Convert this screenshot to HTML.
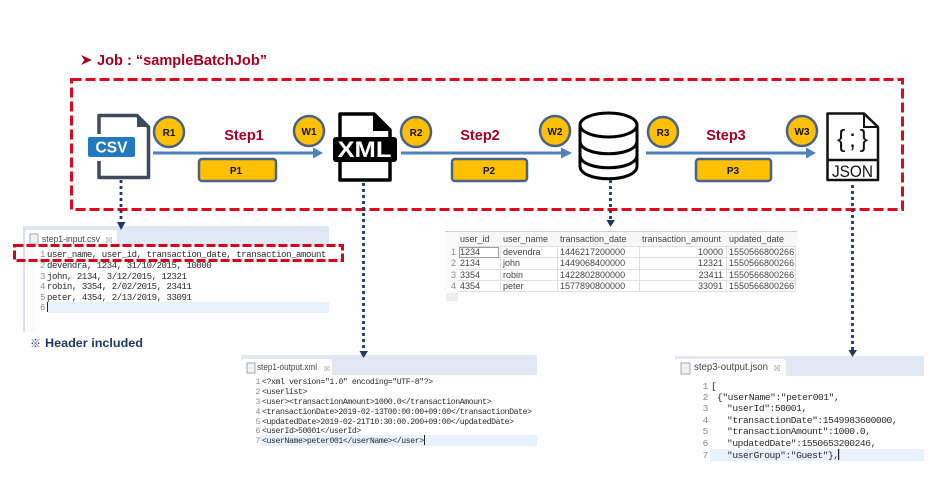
<!DOCTYPE html>
<html>
<head>
<meta charset="utf-8">
<style>
html,body{margin:0;padding:0;background:#fff;width:942px;height:483px;overflow:hidden}
svg{display:block}
.step{font:bold 14.5px "Liberation Sans",sans-serif;fill:#a50021;text-anchor:middle}
.lbl{font:bold 10px "Liberation Sans",sans-serif;fill:#111;text-anchor:middle}
.mono{font-family:"Liberation Mono",monospace;fill:#2a2a2a}
.num{font-family:"Liberation Mono",monospace;fill:#8a8a8a;text-anchor:end}
.tab{font:9.5px "Liberation Sans",sans-serif;fill:#444}
.tb{font:9px "Liberation Sans",sans-serif;fill:#444}
</style>
</head>
<body>
<svg width="942" height="483" viewBox="0 0 942 483" xmlns="http://www.w3.org/2000/svg">
<rect width="942" height="483" fill="#fff"/>

<!-- Title -->
<path d="M81 55 L92 60 L81 65 L84.500 60 Z" fill="#a50021"/>
<text x="97" y="65" font-family="Liberation Sans,sans-serif" font-weight="bold" font-size="14.5" fill="#a50021" textLength="170" lengthAdjust="spacingAndGlyphs">Job : “sampleBatchJob”</text>

<!-- Job box -->
<rect x="71.500" y="79.500" width="831" height="130" fill="none" stroke="#e0081c" stroke-width="3" stroke-dasharray="10 4"/>

<!-- CSV icon -->
<path d="M99 115.500 H137 L148.500 127 V177.500 H99 Z" fill="#fff" stroke="#3e4a5a" stroke-width="3.500" stroke-linejoin="round"/>
<path d="M137 115 L149 127 H137 Z" fill="#3e4a5a"/>
<rect x="96" y="134" width="6" height="27" fill="#fff"/>
<rect x="88" y="137" width="47" height="20" rx="2" fill="#2279bd"/>
<text x="111.500" y="152.500" font-family="Liberation Sans,sans-serif" font-weight="bold" font-size="16" fill="#fff" text-anchor="middle" textLength="32" lengthAdjust="spacingAndGlyphs">CSV</text>

<!-- XML icon -->
<path d="M340 114 H374 L390 130 V180 H340 Z" fill="#fff" stroke="#000" stroke-width="3.500" stroke-linejoin="round"/>
<path d="M373 112 L392 131 H373 Z" fill="#000"/>
<rect x="333" y="137" width="64" height="25" rx="3" fill="#000"/>
<text x="364.500" y="157" font-family="Liberation Sans,sans-serif" font-weight="bold" font-size="22" fill="#fff" text-anchor="middle" textLength="54" lengthAdjust="spacingAndGlyphs">XML</text>

<!-- Database icon -->
<g fill="#fff" stroke="#000" stroke-width="3">
<path d="M580 125 V166 C580 183 637 183 637 166 V125"/>
<ellipse cx="608.500" cy="125" rx="28.500" ry="12"/>
<path d="M580 141 C580 158 637 158 637 141" fill="none"/>
<path d="M580 155 C580 172 637 172 637 155" fill="none"/>
</g>

<!-- JSON icon -->
<path d="M827.500 113.500 H864 L878 127 V180 H827.500 Z" fill="#fff" stroke="#111" stroke-width="2.500" stroke-linejoin="round"/>
<path d="M864 113.500 V127 H878" fill="none" stroke="#111" stroke-width="2"/>
<line x1="827" y1="160" x2="878" y2="160" stroke="#111" stroke-width="2.500"/>
<text x="837" y="147" font-family="Liberation Sans,sans-serif" font-size="25" fill="#111" textLength="31" lengthAdjust="spacing">{;}</text>
<text x="852.500" y="177" font-family="Liberation Sans,sans-serif" font-size="16.500" fill="#111" text-anchor="middle" textLength="41" lengthAdjust="spacingAndGlyphs">JSON</text>

<!-- Arrows -->
<g fill="#4f81bd">
<path d="M153 151.500 H313 V147.500 L323 153 L313 158.500 V154.500 H153 Z"/>
<path d="M401 151.500 H561 V147.500 L572 153 L561 158.500 V154.500 H401 Z"/>
<path d="M646 151.500 H806 V147.500 L816 153 L806 158.500 V154.500 H646 Z"/>
</g>

<!-- Circles -->
<g fill="#ffc000" stroke="#4a6285" stroke-width="2.500">
<circle cx="169" cy="132" r="15"/>
<circle cx="309" cy="131" r="15"/>
<circle cx="416" cy="132" r="15"/>
<circle cx="555" cy="131" r="15"/>
<circle cx="663" cy="132" r="15"/>
<circle cx="802" cy="131" r="15"/>
</g>
<text class="lbl" x="169" y="136">R1</text>
<text class="lbl" x="309" y="135">W1</text>
<text class="lbl" x="416" y="136">R2</text>
<text class="lbl" x="555" y="135">W2</text>
<text class="lbl" x="663" y="136">R3</text>
<text class="lbl" x="802" y="135">W3</text>

<!-- Steps -->
<text class="step" x="244" y="140">Step1</text>
<text class="step" x="480" y="140">Step2</text>
<text class="step" x="726" y="140">Step3</text>

<!-- Process boxes -->
<g fill="#ffc000" stroke="#4a6285" stroke-width="2.500">
<rect x="199" y="159" width="77" height="22" rx="3"/>
<rect x="452" y="159" width="75" height="22" rx="3"/>
<rect x="696" y="159" width="75" height="22" rx="3"/>
</g>
<text class="lbl" x="236" y="174">P1</text>
<text class="lbl" x="489" y="174">P2</text>
<text class="lbl" x="733" y="174">P3</text>

<!-- CSV panel -->
<rect x="23" y="226" width="306" height="20" fill="#dfe8f3"/>
<rect x="23" y="226" width="2" height="106" fill="#dde1e6"/>
<rect x="25" y="246" width="10" height="86" fill="#fbfbfb"/>
<path d="M25 246 V233 Q25 230 28 230 H114 Q117 230 117 233 V246 Z" fill="#fff"/>
<rect x="30" y="234" width="8" height="10" fill="#eef1f4" stroke="#8d97a3" stroke-width="0.800"/>
<text class="tab" x="42" y="242" textLength="58" lengthAdjust="spacingAndGlyphs">step1-input.csv</text>
<text x="109" y="243" font-size="8" font-family="DejaVu Sans,sans-serif" fill="#999" text-anchor="middle">☒</text>
<rect x="48" y="302" width="281" height="11" fill="#e8f2fe"/>
<rect x="47" y="302" width="1" height="10" fill="#222"/>
<g font-size="9" letter-spacing="-0.420">
<text class="num" x="45" y="257">1</text><text class="mono" x="47" y="257">user_name, user_id, transaction_date, transaction_amount</text>
<text class="num" x="45" y="268">2</text><text class="mono" x="47" y="268">devendra, 1234, 31/10/2015, 10000</text>
<text class="num" x="45" y="279">3</text><text class="mono" x="47" y="279">john, 2134, 3/12/2015, 12321</text>
<text class="num" x="45" y="289">4</text><text class="mono" x="47" y="289">robin, 3354, 2/02/2015, 23411</text>
<text class="num" x="45" y="300">5</text><text class="mono" x="47" y="300">peter, 4354, 2/13/2019, 33091</text>
<text class="num" x="45" y="310">6</text>
</g>
<rect x="14.500" y="245.500" width="328" height="15" fill="none" stroke="#d9001b" stroke-width="3" stroke-dasharray="9 3"/>

<!-- Header note -->
<text x="30" y="347" font-family="Noto Sans CJK KR,sans-serif" font-weight="bold" font-size="11" fill="#1f3864">※</text>
<text x="45" y="347" font-family="Liberation Sans,sans-serif" font-weight="bold" font-size="12" fill="#1f3864" textLength="98" lengthAdjust="spacingAndGlyphs">Header included</text>

<!-- Table -->
<rect x="445" y="231" width="352" height="15" fill="#f7f7f7"/>
<rect x="445" y="231" width="352" height="1" fill="#cfcfcf"/>
<rect x="445" y="232" width="13" height="60" fill="#fafafa"/>
<rect x="446" y="293" width="12" height="8" fill="#eeeeee"/>
<g stroke="#e0e0e0" stroke-width="1">
<line x1="458" y1="246.500" x2="796" y2="246.500"/>
<line x1="458" y1="257.500" x2="796" y2="257.500"/>
<line x1="458" y1="269.500" x2="796" y2="269.500"/>
<line x1="458" y1="280.500" x2="796" y2="280.500"/>
<line x1="458" y1="291.500" x2="796" y2="291.500"/>
<line x1="500.500" y1="246" x2="500.500" y2="291"/>
<line x1="557.500" y1="246" x2="557.500" y2="291"/>
<line x1="639.500" y1="246" x2="639.500" y2="291"/>
<line x1="726.500" y1="246" x2="726.500" y2="291"/>
<line x1="795.500" y1="246" x2="795.500" y2="291"/>
</g>
<rect x="459.500" y="247.500" width="39" height="10" fill="#fff" stroke="#888" stroke-width="0.800"/>
<g>
<text class="tb" x="460" y="242">user_id</text><text class="tb" x="503" y="242">user_name</text><text class="tb" x="560" y="242">transaction_date</text><text class="tb" x="642" y="242">transaction_amount</text><text class="tb" x="729" y="242">updated_date</text>
<text class="tb" x="451" y="255" fill-opacity="0.6">1</text><text class="tb" x="460" y="255">1234</text><text class="tb" x="503" y="255">devendra</text><text class="tb" x="560" y="255">1446217200000</text><text class="tb" x="723" y="255" text-anchor="end">10000</text><text class="tb" x="729" y="255">1550566800266</text>
<text class="tb" x="451" y="266" fill-opacity="0.6">2</text><text class="tb" x="460" y="266">2134</text><text class="tb" x="503" y="266">john</text><text class="tb" x="560" y="266">1449068400000</text><text class="tb" x="723" y="266" text-anchor="end">12321</text><text class="tb" x="729" y="266">1550566800266</text>
<text class="tb" x="451" y="278" fill-opacity="0.6">3</text><text class="tb" x="460" y="278">3354</text><text class="tb" x="503" y="278">robin</text><text class="tb" x="560" y="278">1422802800000</text><text class="tb" x="723" y="278" text-anchor="end">23411</text><text class="tb" x="729" y="278">1550566800266</text>
<text class="tb" x="451" y="289" fill-opacity="0.6">4</text><text class="tb" x="460" y="289">4354</text><text class="tb" x="503" y="289">peter</text><text class="tb" x="560" y="289">1577890800000</text><text class="tb" x="723" y="289" text-anchor="end">33091</text><text class="tb" x="729" y="289">1550566800266</text>
</g>

<!-- XML panel -->
<rect x="241" y="355" width="296" height="20" fill="#dfe8f3"/>
<path d="M241 375 V362 Q241 359 244 359 H329 Q332 359 332 362 V375 Z" fill="#fff"/>
<rect x="247" y="363" width="8" height="10" fill="#eef1f4" stroke="#8d97a3" stroke-width="0.800"/>
<text class="tab" x="257" y="370" textLength="60" lengthAdjust="spacingAndGlyphs">step1-output.xml</text>
<text x="327" y="371" font-size="7" font-family="DejaVu Sans,sans-serif" fill="#999" text-anchor="middle">☒</text>
<rect x="260" y="435" width="277" height="11" fill="#e8f2fe"/>
<rect x="424" y="435" width="1" height="10" fill="#222"/>
<g font-size="8.200" letter-spacing="-0.420">
<text class="num" x="260" y="384">1</text><text class="mono" x="262" y="384">&lt;?xml version="1.0" encoding="UTF-8"?&gt;</text>
<text class="num" x="260" y="394">2</text><text class="mono" x="262" y="394">&lt;userlist&gt;</text>
<text class="num" x="260" y="404">3</text><text class="mono" x="262" y="404">&lt;user&gt;&lt;transactionAmount&gt;1000.0&lt;/transactionAmount&gt;</text>
<text class="num" x="260" y="414">4</text><text class="mono" x="262" y="414">&lt;transactionDate&gt;2019-02-13T00:00:00+09:00&lt;/transactionDate&gt;</text>
<text class="num" x="260" y="424">5</text><text class="mono" x="262" y="424">&lt;updatedDate&gt;2019-02-21T10:30:00.200+09:00&lt;/updatedDate&gt;</text>
<text class="num" x="260" y="433">6</text><text class="mono" x="262" y="433">&lt;userId&gt;50001&lt;/userId&gt;</text>
<text class="num" x="260" y="443">7</text><text class="mono" x="262" y="443">&lt;userName&gt;peter001&lt;/userName&gt;&lt;/user&gt;</text>
</g>

<!-- JSON panel -->
<rect x="675" y="356" width="249" height="20" fill="#dfe8f3"/>
<path d="M675 376 V362 Q675 359 678 359 H783 Q786 359 786 362 V376 Z" fill="#fff"/>
<rect x="681" y="363" width="9" height="11" fill="#eef1f4" stroke="#8d97a3" stroke-width="0.800"/>
<text class="tab" x="694" y="370" style="font-size:10px" textLength="74" lengthAdjust="spacingAndGlyphs">step3-output.json</text>
<text x="777" y="371" font-size="8" font-family="DejaVu Sans,sans-serif" fill="#999" text-anchor="middle">☒</text>
<rect x="710" y="449" width="214" height="12" fill="#e8f2fe"/>
<rect x="838" y="449" width="1.200" height="11" fill="#222"/>
<g font-size="9.600" letter-spacing="-0.440">
<text class="num" x="708" y="389">1</text><text class="mono" x="711" y="389">[</text>
<text class="num" x="708" y="400">2</text><text class="mono" x="717" y="400">{"userName":"peter001",</text>
<text class="num" x="708" y="411">3</text><text class="mono" x="727" y="411">"userId":50001,</text>
<text class="num" x="708" y="423">4</text><text class="mono" x="727" y="423">"transactionDate":1549983600000,</text>
<text class="num" x="708" y="434">5</text><text class="mono" x="727" y="434">"transactionAmount":1000.0,</text>
<text class="num" x="708" y="446">6</text><text class="mono" x="727" y="446">"updatedDate":1550653200246,</text>
<text class="num" x="708" y="458">7</text><text class="mono" x="727" y="458">"userGroup":"Guest"},</text>
</g>

<!-- Dotted connectors -->
<g stroke="#1f3864" stroke-width="2.800" stroke-dasharray="3 3" fill="none">
<line x1="121" y1="180" x2="121" y2="222"/>
<line x1="363.500" y1="183" x2="363.500" y2="351"/>
<line x1="610.500" y1="180" x2="610.500" y2="220"/>
<line x1="852.500" y1="185" x2="852.500" y2="350"/>
</g>
<g fill="#1f3864">
<path d="M117 222 H125.500 L121 230 Z"/>
<path d="M359.500 351 H368 L363.500 358 Z"/>
<path d="M606.500 220 H615 L610.500 227 Z"/>
<path d="M848.500 350 H857 L852.500 357 Z"/>
</g>
</svg>
</body>
</html>
